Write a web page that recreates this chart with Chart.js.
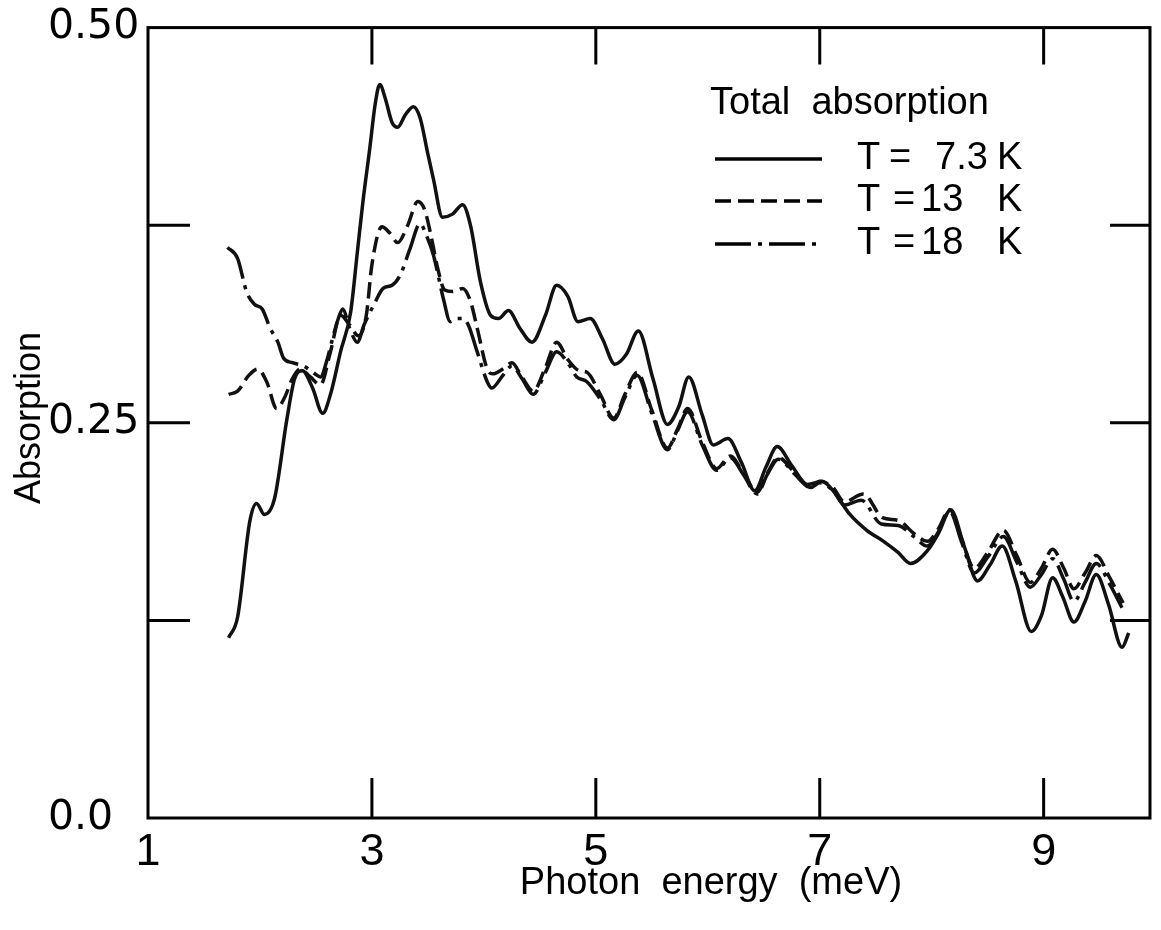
<!DOCTYPE html>
<html>
<head>
<meta charset="utf-8">
<script src="https://cdn.jsdelivr.net/npm/chart.js@4.4.1/dist/chart.umd.min.js"></script>
<style>
  html, body { margin: 0; padding: 0; background: #fff; }
  #wrap { width: 1161px; height: 930px; }
</style>
</head>
<body>
<div id="wrap"><canvas id="absChart" width="1161" height="930"></canvas></div>
<script>
// photon energy (meV) and absorption
const energy73 = [1.72, 1.80, 1.91, 1.97, 2.04, 2.13, 2.24, 2.31, 2.38, 2.47, 2.56, 2.63, 2.72, 2.81, 2.87, 2.92, 2.98, 3.03, 3.07, 3.12, 3.18, 3.23, 3.30, 3.37, 3.43, 3.50, 3.55, 3.63, 3.72, 3.81, 3.88, 3.97, 4.06, 4.13, 4.22, 4.32, 4.43, 4.55, 4.65, 4.75, 4.84, 4.95, 5.06, 5.17, 5.27, 5.38, 5.51, 5.64, 5.74, 5.83, 5.95, 6.05, 6.18, 6.30, 6.42, 6.52, 6.62, 6.75, 6.89, 7.02, 7.12, 7.27, 7.42, 7.57, 7.70, 7.81, 7.96, 8.06, 8.17, 8.29, 8.41, 8.52, 8.63, 8.75, 8.89, 8.98, 9.08, 9.17, 9.27, 9.37, 9.47, 9.58, 9.70, 9.76];
const abs73 = [0.114, 0.127, 0.188, 0.199, 0.192, 0.202, 0.252, 0.278, 0.283, 0.272, 0.256, 0.268, 0.295, 0.320, 0.358, 0.390, 0.423, 0.452, 0.464, 0.455, 0.440, 0.437, 0.445, 0.450, 0.443, 0.420, 0.404, 0.380, 0.382, 0.388, 0.375, 0.339, 0.318, 0.316, 0.321, 0.310, 0.301, 0.318, 0.337, 0.330, 0.314, 0.316, 0.303, 0.287, 0.293, 0.308, 0.278, 0.249, 0.260, 0.279, 0.255, 0.236, 0.240, 0.225, 0.207, 0.222, 0.235, 0.223, 0.211, 0.213, 0.207, 0.192, 0.182, 0.175, 0.168, 0.161, 0.169, 0.180, 0.195, 0.172, 0.150, 0.160, 0.172, 0.150, 0.118, 0.128, 0.152, 0.140, 0.124, 0.137, 0.154, 0.135, 0.108, 0.117];

const energy13 = [1.72, 1.80, 1.90, 1.98, 2.06, 2.15, 2.22, 2.29, 2.36, 2.45, 2.54, 2.63, 2.72, 2.80, 2.88, 2.95, 3.00, 3.09, 3.16, 3.23, 3.32, 3.41, 3.47, 3.52, 3.59, 3.65, 3.72, 3.81, 3.88, 3.94, 4.03, 4.08, 4.17, 4.25, 4.34, 4.44, 4.55, 4.65, 4.75, 4.85, 4.92, 5.04, 5.16, 5.26, 5.37, 5.50, 5.64, 5.73, 5.82, 5.95, 6.08, 6.20, 6.32, 6.44, 6.53, 6.63, 6.77, 6.92, 7.00, 7.12, 7.22, 7.39, 7.56, 7.71, 7.84, 7.96, 8.06, 8.16, 8.27, 8.38, 8.50, 8.64, 8.76, 8.88, 8.98, 9.08, 9.18, 9.27, 9.37, 9.47, 9.59, 9.71];
const abs13 = [0.268, 0.270, 0.280, 0.284, 0.276, 0.259, 0.266, 0.278, 0.284, 0.279, 0.274, 0.295, 0.318, 0.312, 0.305, 0.318, 0.350, 0.374, 0.370, 0.364, 0.375, 0.390, 0.385, 0.371, 0.347, 0.334, 0.333, 0.335, 0.327, 0.310, 0.284, 0.281, 0.284, 0.288, 0.279, 0.270, 0.285, 0.301, 0.290, 0.283, 0.282, 0.268, 0.253, 0.268, 0.282, 0.258, 0.234, 0.246, 0.259, 0.238, 0.221, 0.229, 0.218, 0.206, 0.218, 0.228, 0.219, 0.209, 0.213, 0.209, 0.200, 0.205, 0.190, 0.188, 0.180, 0.175, 0.183, 0.195, 0.176, 0.158, 0.168, 0.182, 0.166, 0.149, 0.158, 0.170, 0.158, 0.145, 0.155, 0.166, 0.152, 0.136];

const energy18 = [1.71, 1.80, 1.88, 1.95, 2.02, 2.09, 2.16, 2.21, 2.29, 2.39, 2.49, 2.54, 2.60, 2.64, 2.70, 2.74, 2.80, 2.87, 2.93, 3.02, 3.10, 3.18, 3.25, 3.34, 3.43, 3.49, 3.55, 3.64, 3.70, 3.76, 3.81, 3.86, 3.94, 4.03, 4.07, 4.17, 4.25, 4.34, 4.44, 4.55, 4.65, 4.75, 4.83, 4.92, 5.04, 5.16, 5.26, 5.37, 5.50, 5.64, 5.73, 5.82, 5.95, 6.08, 6.20, 6.32, 6.44, 6.53, 6.63, 6.77, 6.92, 7.00, 7.12, 7.22, 7.37, 7.55, 7.70, 7.84, 7.96, 8.06, 8.16, 8.27, 8.38, 8.50, 8.64, 8.76, 8.88, 8.98, 9.08, 9.18, 9.27, 9.37, 9.47, 9.59, 9.70];
const abs18 = [0.361, 0.354, 0.333, 0.325, 0.322, 0.310, 0.301, 0.291, 0.288, 0.286, 0.281, 0.279, 0.290, 0.301, 0.316, 0.322, 0.310, 0.301, 0.312, 0.325, 0.335, 0.337, 0.343, 0.360, 0.376, 0.368, 0.356, 0.328, 0.314, 0.316, 0.316, 0.312, 0.295, 0.276, 0.272, 0.280, 0.286, 0.278, 0.268, 0.282, 0.295, 0.288, 0.279, 0.276, 0.265, 0.252, 0.266, 0.280, 0.256, 0.233, 0.245, 0.257, 0.236, 0.220, 0.228, 0.217, 0.205, 0.217, 0.227, 0.218, 0.209, 0.212, 0.207, 0.198, 0.201, 0.186, 0.185, 0.178, 0.172, 0.181, 0.194, 0.174, 0.155, 0.165, 0.178, 0.162, 0.146, 0.154, 0.164, 0.151, 0.137, 0.149, 0.161, 0.148, 0.133];

const xTicks = [1, 3, 5, 7, 9];
const yTicks = [0, 0.125, 0.25, 0.375, 0.5];
const yLabels = { "0": "0.0", "0.25": "0.25", "0.5": "0.50" };
const legendTemps = ["7.3", "13", "18"];

const toPoints = (xs, ys) => xs.map((v, i) => ({ x: v, y: ys[i] }));
const font = "'Liberation Sans', Arial, sans-serif";
const wideFont = "'DejaVu Sans', sans-serif";

const framePlugin = {
  id: "frame",
  afterDatasetsDraw(chart) {
    const { ctx, chartArea: a, scales: { x, y } } = chart;
    ctx.save();
    ctx.strokeStyle = "#000";
    ctx.lineWidth = 3;
    ctx.strokeRect(a.left, a.top, a.right - a.left, a.bottom - a.top);

    // inward ticks on all four sides
    ctx.beginPath();
    xTicks.slice(1).forEach(v => {
      const px = x.getPixelForValue(v);
      ctx.moveTo(px, a.bottom); ctx.lineTo(px, a.bottom - 40);
      ctx.moveTo(px, a.top); ctx.lineTo(px, a.top + 37);
    });
    yTicks.slice(1, -1).forEach(v => {
      const py = y.getPixelForValue(v);
      ctx.moveTo(a.left, py); ctx.lineTo(a.left + 42, py);
      ctx.moveTo(a.right, py); ctx.lineTo(a.right - 40, py);
    });
    ctx.stroke();

    // axis titles
    ctx.fillStyle = "#000";
    ctx.font = "38px " + font;
    ctx.textAlign = "center";
    ctx.textBaseline = "middle";
    ctx.fillText("Photon  energy  (meV)", 711, 884);
    ctx.save();
    ctx.translate(30, 418);
    ctx.rotate(-Math.PI / 2);
    ctx.font = "36px " + font;
    ctx.fillText("Absorption", 0, 0);
    ctx.restore();

    // legend
    ctx.textAlign = "left";
    ctx.font = "38px " + font;
    ctx.fillText("Total  absorption", 710, 104);
    const rows = [159, 201, 244];
    chart.data.datasets.forEach((ds, i) => {
      const ly = rows[i];
      ctx.setLineDash(ds.borderDash || []);
      ctx.lineWidth = 3.5;
      ctx.beginPath();
      ctx.moveTo(715, ly); ctx.lineTo(822, ly);
      ctx.stroke();
      ctx.setLineDash([]);
      ctx.textAlign = "left";
      ctx.fillText("T", 857, ly);
      ctx.textAlign = "center";
      ctx.fillText("=", i === 0 ? 900 : 904, ly);
      ctx.textAlign = "left";
      ctx.fillText(legendTemps[i], i === 0 ? 935 : 921, ly);
      ctx.fillText("K", 997, ly);
    });
    ctx.restore();
  }
};

new Chart(document.getElementById("absChart"), {
  type: "line",
  data: {
    datasets: [
      { label: "T = 7.3 K", data: toPoints(energy73, abs73), borderColor: "#111", borderWidth: 3.5, borderDash: [] },
      { label: "T = 13 K", data: toPoints(energy13, abs13), borderColor: "#111", borderWidth: 3.5, borderDash: [16, 7] },
      { label: "T = 18 K", data: toPoints(energy18, abs18), borderColor: "#111", borderWidth: 3.5, borderDash: [36, 7, 4, 7] }
    ]
  },
  options: {
    responsive: false,
    devicePixelRatio: 1,
    animation: false,
    layout: { padding: { left: 48, right: 11, top: 23, bottom: 0 } },
    elements: {
      point: { radius: 0 },
      line: { cubicInterpolationMode: "monotone", fill: false }
    },
    plugins: { legend: { display: false }, tooltip: { enabled: false } },
    scales: {
      x: {
        type: "linear",
        min: 1,
        max: 9.95,
        afterBuildTicks: s => { s.ticks = xTicks.map(v => ({ value: v })); },
        afterFit: s => { s.height = 112; },
        grid: { display: false, drawTicks: false },
        border: { display: false },
        ticks: { color: "#000", font: { family: font, size: 45 }, padding: 8, maxRotation: 0, autoSkip: false }
      },
      y: {
        type: "linear",
        min: 0,
        max: 0.5,
        afterBuildTicks: s => { s.ticks = yTicks.map(v => ({ value: v })); },
        afterFit: s => { s.width = 100; },
        grid: { display: false, drawTicks: false },
        border: { display: false },
        ticks: {
          color: "#000",
          font: { family: wideFont, size: 41 },
          crossAlign: "far",
          autoSkip: false,
          callback: v => yLabels[String(v)] || ""
        }
      }
    }
  },
  plugins: [framePlugin]
});
</script>
</body>
</html>
